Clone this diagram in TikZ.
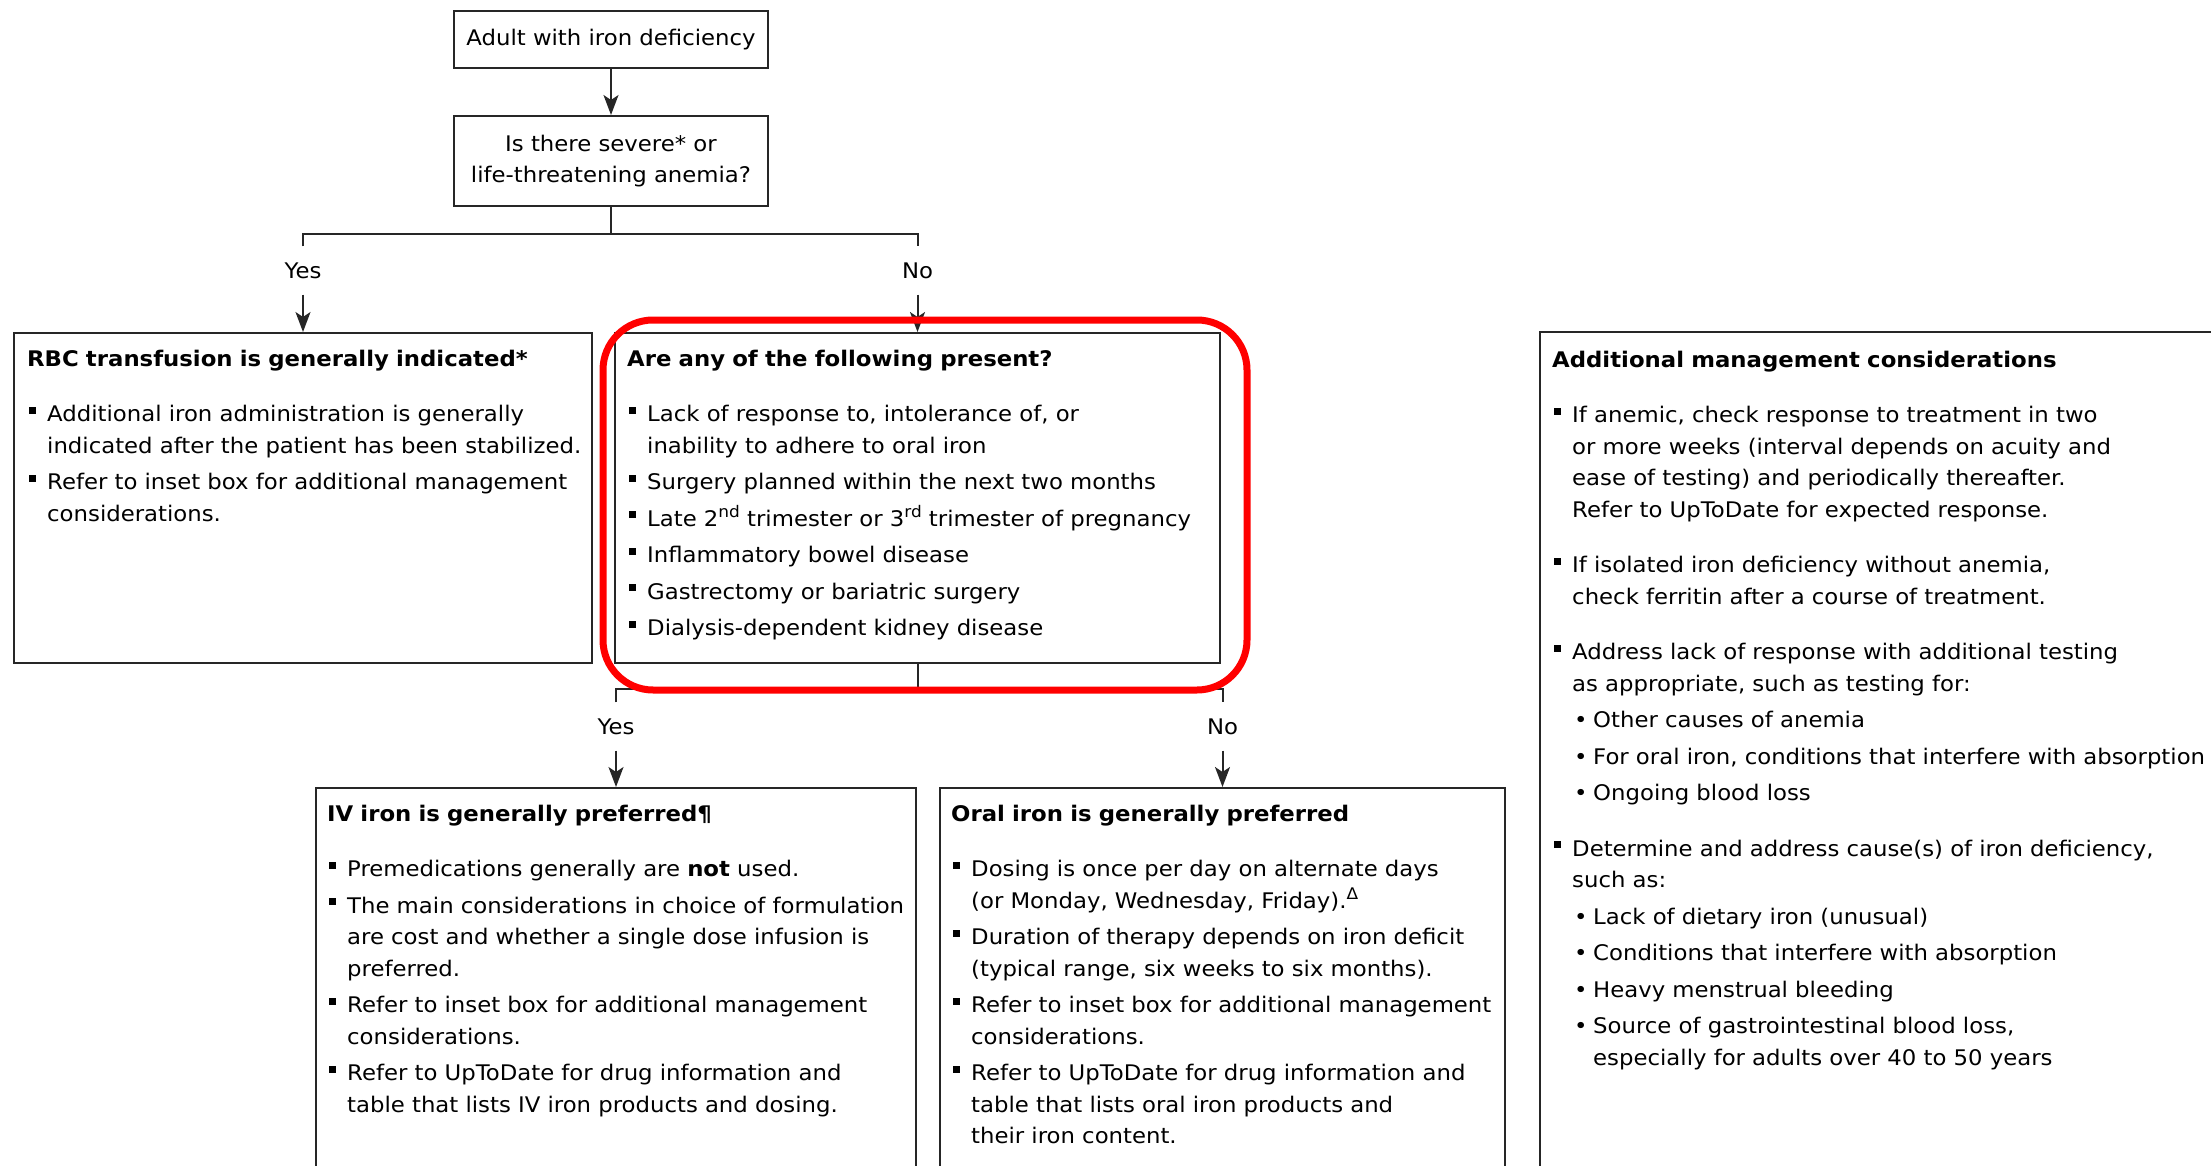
\documentclass[tikz,border=0pt]{standalone}
\usepackage{fontspec}
\setmainfont[FakeStretch=1.06]{DejaVu Sans}
\usetikzlibrary{arrows.meta, positioning}
\definecolor{line_gray}{rgb}{0.15, 0.15, 0.15}
\definecolor{alert_red}{rgb}{1, 0, 0}
\tikzset{every picture/.style={/utils/exec={\fontsize{21.5}{31.5}\selectfont}}}
\tikzset{
  box/.style={draw=line_gray, line width=2pt, inner sep=0pt},
  boxtext/.style={anchor=north west, inner sep=0pt, text width=#1, align=left},
  lbl/.style={inner sep=0pt, minimum height=48pt},
  conn/.style={draw=line_gray, line width=2pt},
  arr/.style={conn, -{Stealth[length=20pt, width=15pt, inset=5pt]}}
}
\newcommand{\boxhead}[1]{\noindent\strut\textbf{#1}\par\vspace{19pt}}
\newcommand{\sqitem}{\par\vspace{5pt}\hangindent=20pt\hangafter=1\noindent\makebox[20pt][l]{\hspace{1.5pt}\rule[8pt]{7pt}{7pt}}}
\newcommand{\dotitem}{\par\vspace{5pt}\hangindent=41pt\hangafter=1\noindent\hspace*{22pt}\makebox[19pt][l]{•}}
\newcommand{\groupgap}{\par\vspace{19pt}}
\newcommand{\supr}[1]{\raisebox{9pt}{\fontsize{16}{16}\selectfont #1}}

\begin{document}
\begin{tikzpicture}[x=1pt, y=-1pt]
  \useasboundingbox (0,0) rectangle (2211,1166);
  \clip (0,0) rectangle (2211,1166);

  \node[box, minimum width=314pt, minimum height=57pt] (start) at (611,39.5) {Adult with iron deficiency};
  \node[box, minimum width=314pt, minimum height=90pt, align=center] (severe) at (611,161) {Is there severe* or\\life-threatening anemia?};
  \node[box, minimum width=578pt, minimum height=330pt] (rbc) at (303,498) {};
  \node[box, minimum width=605pt, minimum height=330pt] (present) at (917.5,498) {};
  \node[box, minimum width=600pt, minimum height=412pt] (ivbox) at (616,994) {};
  \node[box, minimum width=565pt, minimum height=412pt] (oralbox) at (1222.5,994) {};
  \node[box, minimum width=720pt, minimum height=868pt] (extra) at (1900,766) {};

  \node[lbl] (yes1) at (303,270.5) {Yes};
  \node[lbl] (no1) at (917.5,270.5) {No};
  \node[lbl] (yes2) at (616,726.5) {Yes};
  \node[lbl] (no2) at (1222.5,726.5) {No};

  \draw[arr] (start) -- (severe);
  \draw[conn] (severe.south) -- ++(0,27) coordinate (split1);
  \draw[conn] (yes1.north) |- (split1) -| (no1.north);
  \draw[arr] (yes1.south) -- (yes1.south |- rbc.north);
  \draw[arr] (no1.south) -- (no1.south |- present.north);
  \draw[conn] (present.south) -- ++(0,25) coordinate (split2);
  \draw[conn] (yes2.north) |- (split2) -| (no2.north);
  \draw[arr] (yes2.south) -- (yes2.south |- ivbox.north);
  \draw[arr] (no2.south) -- (no2.south |- oralbox.north);

  \node[boxtext=640pt] (rbc-text) at ([shift={(14,12)}]rbc.north west) {
    \boxhead{RBC transfusion is generally indicated*}
    \sqitem Additional iron administration is generally\newline indicated after the patient has been stabilized.
    \sqitem Refer to inset box for additional management\newline considerations.\par};
  \node[boxtext=640pt] (present-text) at ([shift={(13,12)}]present.north west) {
    \boxhead{Are any of the following present?}
    \sqitem Lack of response to, intolerance of, or\newline inability to adhere to oral iron
    \sqitem Surgery planned within the next two months
    \sqitem Late 2\supr{nd} trimester or 3\supr{rd} trimester of pregnancy
    \sqitem Inflammatory bowel disease
    \sqitem Gastrectomy or bariatric surgery
    \sqitem Dialysis-dependent kidney disease\par};
  \node[boxtext=640pt] (iv-text) at ([shift={(12,12)}]ivbox.north west) {
    \boxhead{IV iron is generally preferred¶}
    \sqitem Premedications generally are \textbf{not} used.
    \sqitem The main considerations in choice of formulation\newline are cost and whether a single dose infusion is\newline preferred.
    \sqitem Refer to inset box for additional management\newline considerations.
    \sqitem Refer to UpToDate for drug information and\newline table that lists IV iron products and dosing.\par};
  \node[boxtext=640pt] (oral-text) at ([shift={(12,12)}]oralbox.north west) {
    \boxhead{Oral iron is generally preferred}
    \sqitem Dosing is once per day on alternate days\newline (or Monday, Wednesday, Friday).\supr{Δ}
    \sqitem Duration of therapy depends on iron deficit\newline (typical range, six weeks to six months).
    \sqitem Refer to inset box for additional management\newline considerations.
    \sqitem Refer to UpToDate for drug information and\newline table that lists oral iron products and\newline their iron content.\par};
  \node[boxtext=800pt] (extra-text) at ([shift={(13,14)}]extra.north west) {
    \boxhead{Additional management considerations}
    \sqitem If anemic, check response to treatment in two\newline or more weeks (interval depends on acuity and\newline ease of testing) and periodically thereafter.\newline Refer to UpToDate for expected response.
    \groupgap\sqitem If isolated iron deficiency without anemia,\newline check ferritin after a course of treatment.
    \groupgap\sqitem Address lack of response with additional testing\newline as appropriate, such as testing for:
    \dotitem Other causes of anemia
    \dotitem For oral iron, conditions that interfere with absorption
    \dotitem Ongoing blood loss
    \groupgap\sqitem Determine and address cause(s) of iron deficiency,\newline such as:
    \dotitem Lack of dietary iron (unusual)
    \dotitem Conditions that interfere with absorption
    \dotitem Heavy menstrual bleeding
    \dotitem Source of gastrointestinal blood loss,\newline especially for adults over 40 to 50 years\par};

  \draw[alert_red, line width=7pt, rounded corners=50pt] (603,320) rectangle (1247,690);
\end{tikzpicture}
\end{document}
